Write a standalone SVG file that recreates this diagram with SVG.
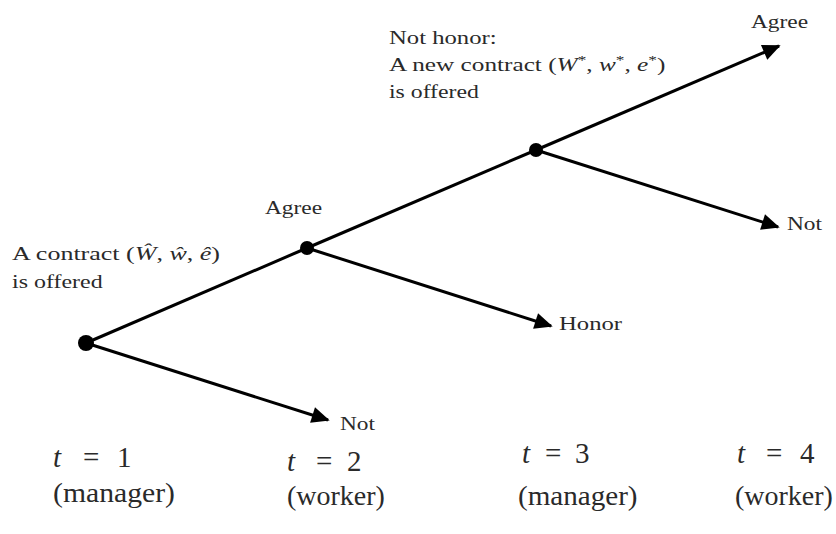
<svg xmlns="http://www.w3.org/2000/svg" width="836" height="534" viewBox="0 0 836 534" font-family="Liberation Serif">
<defs>
<marker id="ah" viewBox="0 0 10 10" refX="9" refY="5" markerWidth="7" markerHeight="6" markerUnits="strokeWidth" orient="auto">
<path d="M0,0.5 L10,5 L0,9.5 Z" fill="#000"/>
</marker>
</defs>
<rect width="836" height="534" fill="#fff"/>
<g id="connectors" stroke="#000" stroke-width="3" fill="none">
<line x1="86" y1="343" x2="328" y2="420" marker-end="url(#ah)"/>
<line x1="86" y1="343" x2="307" y2="248"/>
<line x1="307" y1="248" x2="551" y2="326" marker-end="url(#ah)"/>
<line x1="307" y1="248" x2="536" y2="150"/>
<line x1="536" y1="150" x2="778" y2="227" marker-end="url(#ah)"/>
<line x1="536" y1="150" x2="779" y2="46" marker-end="url(#ah)"/>
</g>
<g id="n1"><circle cx="86" cy="343" r="8" fill="#000"/>
<text font-family="Liberation Serif, serif" font-size="19" fill="#2a2a2a" transform="translate(12,260) scale(1.37,1)">A contract (<tspan font-style="italic">&#372;</tspan>, <tspan font-style="italic">&#373;</tspan>, <tspan font-style="italic">&#234;</tspan>)</text>
<text font-family="Liberation Serif, serif" font-size="19" fill="#2a2a2a" transform="translate(12,288) scale(1.26,1)">is offered</text></g>
<g id="n2"><circle cx="307" cy="248" r="7" fill="#000"/>
<text font-family="Liberation Serif, serif" font-size="19" fill="#2a2a2a" transform="translate(265,214) scale(1.23,1)">Agree</text></g>
<g id="n3"><circle cx="536" cy="150" r="7" fill="#000"/>
<text font-family="Liberation Serif, serif" font-size="19" fill="#2a2a2a" transform="translate(389,44) scale(1.3,1)">Not honor:</text>
<text font-family="Liberation Serif, serif" font-size="19" fill="#2a2a2a" transform="translate(389,71) scale(1.33,1)">A new contract (<tspan font-style="italic">W</tspan><tspan dy="-7" font-size="13">*</tspan><tspan dy="7">, </tspan><tspan font-style="italic">w</tspan><tspan dy="-7" font-size="13">*</tspan><tspan dy="7">, </tspan><tspan font-style="italic">e</tspan><tspan dy="-7" font-size="13">*</tspan><tspan dy="7">)</tspan></text>
<text font-family="Liberation Serif, serif" font-size="19" fill="#2a2a2a" transform="translate(389,98) scale(1.25,1)">is offered</text></g>
<g id="notA"><text font-family="Liberation Serif, serif" font-size="19" fill="#2a2a2a" transform="translate(340,430) scale(1.23,1)">Not</text></g>
<g id="honor"><text font-family="Liberation Serif, serif" font-size="19" fill="#2a2a2a" transform="translate(559,330) scale(1.3,1)">Honor</text></g>
<g id="agree4"><text font-family="Liberation Serif, serif" font-size="19" fill="#2a2a2a" transform="translate(751,28) scale(1.23,1)">Agree</text></g>
<g id="not4"><text font-family="Liberation Serif, serif" font-size="19" fill="#2a2a2a" transform="translate(787,230) scale(1.23,1)">Not</text></g>
<g id="t1">
<text font-family="Liberation Serif, serif" font-size="29" fill="#2a2a2a" y="467"><tspan x="53" font-style="italic">t</tspan><tspan x="83">=</tspan><tspan x="117">1</tspan></text>
<text font-family="Liberation Serif, serif" font-size="28" fill="#2a2a2a" transform="translate(53,502) scale(1.06,1)">(manager)</text></g>
<g id="t2">
<text font-family="Liberation Serif, serif" font-size="29" fill="#2a2a2a" y="471"><tspan x="287" font-style="italic">t</tspan><tspan x="316">=</tspan><tspan x="347">2</tspan></text>
<text font-family="Liberation Serif, serif" font-size="28" fill="#2a2a2a" x="287" y="505">(worker)</text></g>
<g id="t3">
<text font-family="Liberation Serif, serif" font-size="29" fill="#2a2a2a" y="463"><tspan x="522" font-style="italic">t</tspan><tspan x="545">=</tspan><tspan x="575">3</tspan></text>
<text font-family="Liberation Serif, serif" font-size="28" fill="#2a2a2a" transform="translate(518,505) scale(1.04,1)">(manager)</text></g>
<g id="t4">
<text font-family="Liberation Serif, serif" font-size="29" fill="#2a2a2a" y="463"><tspan x="737" font-style="italic">t</tspan><tspan x="766">=</tspan><tspan x="800">4</tspan></text>
<text font-family="Liberation Serif, serif" font-size="28" fill="#2a2a2a" x="735" y="505">(worker)</text></g>
</svg>
